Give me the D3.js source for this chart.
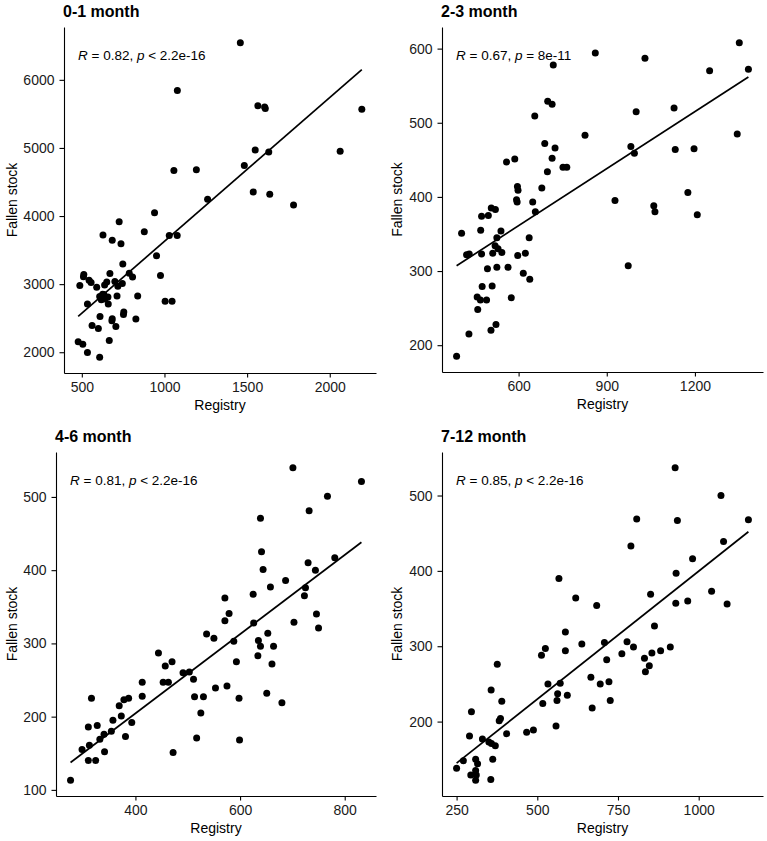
<!DOCTYPE html>
<html>
<head>
<meta charset="utf-8">
<script src="https://cdn.jsdelivr.net/npm/d3@7.9.0/dist/d3.min.js"></script>
<style>
  body { margin: 0; background: #fff; }
  svg text { font-family: "Liberation Sans", Arial, sans-serif; fill: #000; }
  .tick text { font-size: 14px; fill: #1a1a1a; }
  .tick line, .domain { stroke: #000; stroke-width: 1.1; }
</style>
</head>
<body>
<svg id="chart" width="767" height="841"></svg>
<script>
// panel titles and correlation labels
const titles = ['0-1 month', '2-3 month', '4-6 month', '7-12 month'];
const corrR = ['0.82', '0.67', '0.81', '0.85'];
const corrP = ['< 2.2e-16', '= 8e-11', '< 2.2e-16', '< 2.2e-16'];

// tick values
const xTicks = [[500, 1000, 1500, 2000], [600, 900, 1200], [400, 600, 800], [250, 500, 750, 1000]];
const yTicks = [[2000, 3000, 4000, 5000, 6000], [200, 300, 400, 500, 600], [100, 200, 300, 400, 500], [200, 300, 400, 500]];

// 0-1 month
const registry01 = [1459, 1078, 1565, 1606, 1610, 2194, 1549, 1631, 2063, 1057, 1193, 1483, 1537, 1637, 1261, 1781,
  940, 726, 628, 684, 737, 878, 1029, 1077, 952, 748, 976, 512, 510, 488, 544, 556, 590, 670, 700, 651, 638, 718,
  745, 787, 807, 608, 626, 640, 618, 658, 713, 633, 660, 534, 838, 1004, 1046, 754, 752, 684, 682, 610, 827, 562,
  600, 706, 666, 478, 506, 534, 608];
const fallen01 = [6545, 5842, 5621, 5600, 5580, 5567, 4968, 4939, 4953, 4668, 4678, 4741, 4354, 4320, 4246, 4162,
  4050, 3916, 3720, 3646, 3592, 3769, 3716, 3716, 3415, 3297, 3126, 3140, 3110, 2979, 3057, 3023, 2953, 3155, 3037,
  3032, 2988, 2968, 3008, 3160, 3106, 2820, 2850, 2780, 2772, 2811, 2825, 2846, 2707, 2707, 2825, 2747, 2747, 2590,
  2555, 2492, 2463, 2526, 2487, 2394, 2350, 2379, 2173, 2153, 2118, 1996, 1926];

// 2-3 month
const registry23 = [1351, 861, 1030, 718, 1382, 1250, 699, 714, 655, 1000, 1129, 826, 1344, 689, 724, 982, 994, 1133,
  1197, 714, 559, 587, 751, 764, 698, 679, 596, 598, 593, 595, 648, 928, 1176, 1060, 1064, 1208, 507, 521, 657, 474,
  497, 406, 471, 540, 526, 636, 423, 432, 474, 512, 520, 530, 543, 597, 623, 494, 526, 564, 616, 638, 973, 476, 510,
  459, 470, 491, 575, 461, 523, 506, 431, 389];
const fallen23 = [608, 594, 587, 578, 572, 570, 529, 525, 509, 515, 520, 483, 485, 472, 466, 468, 459, 464, 465, 452,
  447, 451, 440, 440, 434, 412, 414, 409, 396, 393, 393, 395, 406, 388, 380, 376, 385, 383, 380, 374, 375, 351, 355,
  354, 345, 345, 322, 323, 323, 324, 334, 330, 325, 321, 324, 303, 305, 305, 297, 289, 307, 279, 280, 265, 261, 261,
  264, 248, 228, 220, 215, 185];

// 4-6 month
const registry46 = [701, 832, 767, 732, 639, 641, 730, 644, 744, 781, 687, 658, 725, 625, 723, 571, 579, 746, 571, 626,
  703, 750, 536, 550, 588, 635, 653, 639, 664, 444, 634, 593, 661, 470, 457, 491, 503, 511, 413, 453, 463, 553, 575,
  413, 513, 530, 598, 651, 680, 316, 378, 387, 369, 373, 357, 393, 525, 310, 327, 354, 332, 340, 381, 298, 312, 341,
  310, 324, 472, 517, 599, 276];
const fallen46 = [540, 521, 501, 481, 471, 425, 410, 401, 400, 417, 386, 377, 376, 367, 365, 362, 341, 340, 331, 328,
  329, 321, 313, 307, 303, 304, 314, 296, 296, 287, 283, 275, 272, 275, 269, 260, 261, 251, 247, 247, 247, 239, 242,
  228, 227, 227, 225, 232, 219, 225, 223, 225, 215, 201, 195, 192, 205, 186, 188, 180, 169, 176, 173, 155, 161, 152,
  140, 140, 151, 171, 168, 113];

// 7-12 month
const registry712 = [927, 1069, 808, 934, 1154, 790, 1077, 981, 930, 567, 851, 1040, 619, 684, 929, 966, 1088, 863,
  587, 587, 513, 525, 638, 708, 778, 798, 762, 882, 912, 855, 715, 832, 847, 835, 666, 695, 722, 533, 571, 563, 593,
  561, 726, 670, 517, 376, 357, 390, 386, 382, 296, 558, 405, 467, 488, 290, 330, 350, 370, 358, 271, 250, 309, 315,
  362, 294, 311, 309, 309, 356];
const fallen712 = [537, 500, 469, 467, 468, 433, 439, 416, 397, 390, 369, 373, 364, 354, 357, 360, 356, 327, 319, 294,
  288, 297, 303, 305, 306, 299, 290, 294, 299, 291, 282, 284, 274, 266, 259, 250, 253, 250, 251, 237, 235, 228, 228,
  218, 224, 276, 242, 227, 204, 201, 213, 194, 184, 186, 189, 181, 177, 173, 168, 171, 148, 138, 150, 144, 150, 129,
  129, 135, 122, 123];

const xsAll = [registry01, registry23, registry46, registry712];
const ysAll = [fallen01, fallen23, fallen46, fallen712];

// where each panel sits on the page
const frames = [
  { cell: 0, left: 64, right: 376, top: 27, bottom: 373 },
  { cell: 385, left: 442, right: 763, top: 27, bottom: 372 },
  { cell: 0, left: 56, right: 376, top: 452, bottom: 796 },
  { cell: 385, left: 442, right: 763, top: 452, bottom: 796 }
];

const svg = d3.select('#chart');
const plain = d3.format('d');

// ggplot style 5% padding
function padded(values) {
  let [lo, hi] = d3.extent(values);
  let d = (hi - lo) * 0.05;
  return [lo - d, hi + d];
}

function lmFit(xs, ys) {
  let mx = d3.mean(xs), my = d3.mean(ys);
  let sxy = d3.sum(xs, (x, i) => (x - mx) * (ys[i] - my));
  let sxx = d3.sum(xs, (x) => (x - mx) * (x - mx));
  let b = sxy / sxx;
  return { a: my - b * mx, b: b };
}

frames.forEach((f, i) => {
  let xs = xsAll[i], ys = ysAll[i];
  let x = d3.scaleLinear().domain(padded(xs)).range([f.left, f.right]);
  let y = d3.scaleLinear().domain(padded(ys)).range([f.bottom, f.top]);

  let g = svg.append('g');

  g.append('g')
    .attr('transform', `translate(0,${f.bottom})`)
    .call(d3.axisBottom(x).tickValues(xTicks[i]).tickFormat(plain)
      .tickSize(4.5).tickPadding(5).tickSizeOuter(0));
  g.append('g')
    .attr('transform', `translate(${f.left},0)`)
    .call(d3.axisLeft(y).tickValues(yTicks[i]).tickFormat(plain)
      .tickSize(4.5).tickPadding(5).tickSizeOuter(0));

  // points
  g.append('g').selectAll('circle')
    .data(xs.map((v, k) => [v, ys[k]]))
    .join('circle')
    .attr('cx', (d) => x(d[0]))
    .attr('cy', (d) => y(d[1]))
    .attr('r', 3.5)
    .attr('fill', '#000');

  // regression line over the data range
  let fit = lmFit(xs, ys);
  let [x0, x1] = d3.extent(xs);
  g.append('line')
    .attr('x1', x(x0)).attr('y1', y(fit.a + fit.b * x0))
    .attr('x2', x(x1)).attr('y2', y(fit.a + fit.b * x1))
    .attr('stroke', '#000')
    .attr('stroke-width', 1.7);

  // title
  g.append('text')
    .attr('x', f.left - 1)
    .attr('y', f.top - 10)
    .attr('font-size', 16)
    .attr('font-weight', 'bold')
    .text(titles[i]);

  // correlation label
  let lab = g.append('text')
    .attr('x', f.left + 14)
    .attr('y', f.top + 33)
    .attr('font-size', 13.5);
  lab.append('tspan').attr('font-style', 'italic').text('R');
  lab.append('tspan').text(` = ${corrR[i]}, `);
  lab.append('tspan').attr('font-style', 'italic').text('p');
  lab.append('tspan').text(` ${corrP[i]}`);

  // axis titles
  g.append('text')
    .attr('x', (f.left + f.right) / 2)
    .attr('y', f.bottom + 36.5)
    .attr('text-anchor', 'middle')
    .attr('font-size', 14)
    .text('Registry');
  g.append('text')
    .attr('transform', `translate(${f.cell + 17},${(f.top + f.bottom) / 2}) rotate(-90)`)
    .attr('text-anchor', 'middle')
    .attr('font-size', 14)
    .text('Fallen stock');
});
</script>
</body>
</html>
